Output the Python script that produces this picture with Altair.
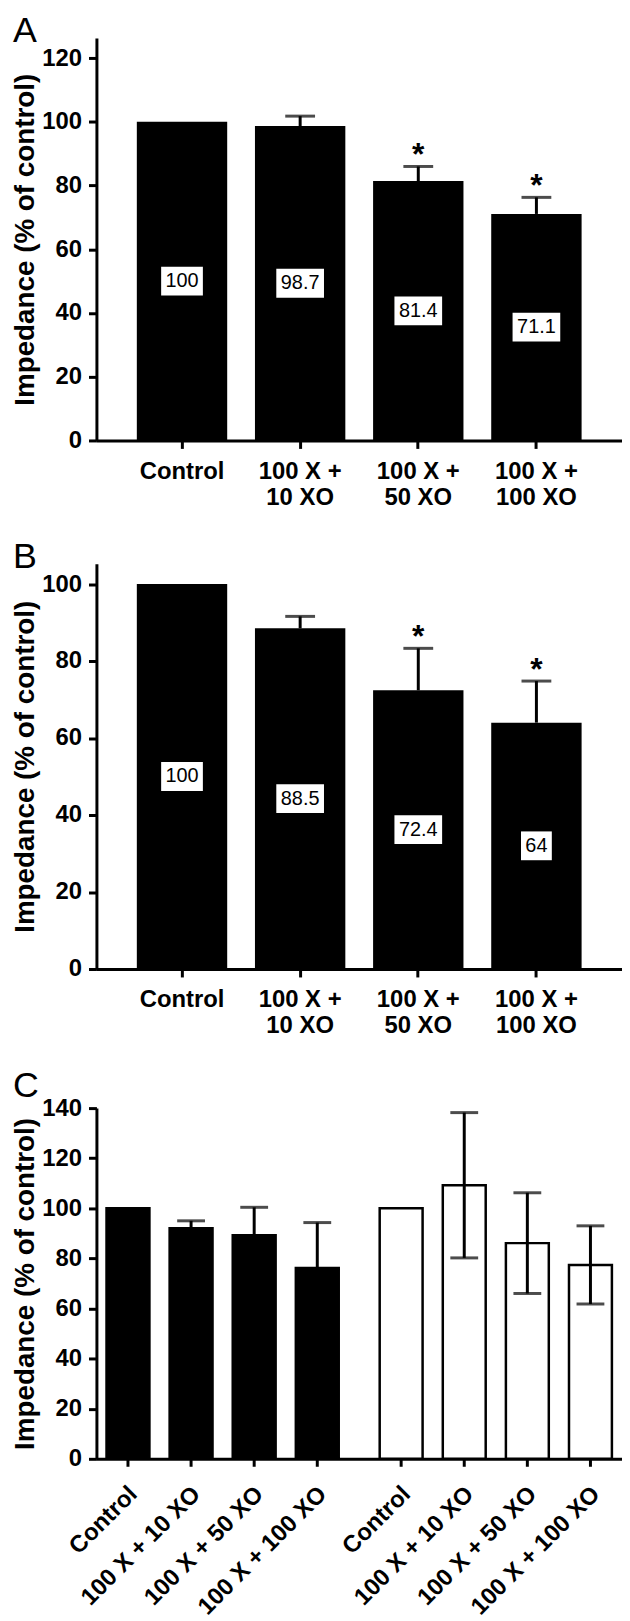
import altair as alt
import pandas as pd

FONT = "Liberation Sans"

# ---------------- data ----------------
cats_ab = ["Control", "100 X +|10 XO", "100 X +|50 XO", "100 X +|100 XO"]

a_values = [100, 98.7, 81.4, 71.1]
a_errors = [0, 3.1, 4.6, 5.2]
a_signif = [False, False, True, True]

b_values = [100, 88.5, 72.4, 64]
b_errors = [0, 3.1, 10.9, 10.8]
b_signif = [False, False, True, True]

c_treatments = ["Control", "100 X + 10 XO", "100 X + 50 XO", "100 X + 100 XO"]
c_groups = ["filled", "open"]
c_filled_values = [100, 92, 89.2, 76.2]
c_filled_errors = [0, 3, 11.2, 18.1]
c_open_values = [100, 109.2, 86.1, 77.4]
c_open_errors = [0, 29, 20.1, 15.6]

panel_letters = ["A", "B", "C"]

Y_TITLE = "Impedance (% of control)"
PLOT_W = 529
LETTER_X = -84
LABEL_FS = 24


def letter_layer(letter, ybase):
    return alt.Chart(pd.DataFrame({"t": [letter]})).mark_text(
        font=FONT, fontSize=36, fontWeight="normal", color="black",
        align="left", baseline="alphabetic").encode(
        x=alt.value(LETTER_X), y=alt.value(ybase), text="t:N")


def panel_ab(letter, values, errors, signif, ymax, height, ticks, ybase):
    df = pd.DataFrame({"cat": cats_ab, "value": values, "err": errors,
                       "sig": signif})
    base = alt.Chart(df).transform_calculate(
        upper="datum.value + datum.err",
        half="datum.value / 2",
        lab="format(datum.value, '~g')",
        nlab="length(format(datum.value, '~g'))",
    )
    x = alt.X("cat:N", sort=cats_ab,
              scale=alt.Scale(paddingInner=0.235, paddingOuter=0.342),
              axis=alt.Axis(title=None, labelAngle=0,
                            labelExpr="split(datum.value, '|')",
                            labelPadding=11, labelLineHeight=26,
                            labelAlign="center", labelBaseline="top"))
    yscale = alt.Scale(domain=[0, ymax], nice=False, zero=True)
    yaxis = alt.Axis(title=Y_TITLE, values=ticks)

    def y(field):
        return alt.Y(field, type="quantitative", scale=yscale, axis=yaxis)

    bars = base.mark_bar(color="black").encode(x=x, y=y("value"))
    err = base.transform_filter("datum.err > 0").mark_rule(
        color="black", strokeWidth=3).encode(x=x, y=y("value"), y2="upper:Q")
    cap = base.transform_filter("datum.err > 0").mark_tick(
        color="black", size=30, thickness=3).encode(x=x, y=y("upper"))
    star = base.transform_filter("datum.sig").mark_text(
        text="*", font=FONT, fontSize=32, fontWeight="bold", color="black",
        baseline="alphabetic", dy=-1).encode(x=x, y=y("upper"))
    layers = [bars, err, cap, star]
    box_w = {2: 31, 3: 42, 4: 48}
    for n, w in box_w.items():
        r = round(29 / w, 4)
        path = f"M-1,-{r}L1,-{r}L1,{r}L-1,{r}Z"
        layers.append(
            base.transform_filter(f"datum.nlab == {n}").mark_point(
                shape=path, size=w * w, filled=True, color="white",
                opacity=1, strokeWidth=0).encode(x=x, y=y("half")))
    txt = base.mark_text(font=FONT, fontSize=20, color="black",
                         baseline="middle").encode(
        x=x, y=y("half"), text="lab:N")
    layers.append(txt)
    layers.append(letter_layer(letter, ybase))
    return alt.layer(*layers).properties(width=PLOT_W, height=height)


chart_a = panel_ab(panel_letters[0], a_values, a_errors, a_signif, 126.3, 405,
                   [0, 20, 40, 60, 80, 100, 120], 4)
chart_b = panel_ab(panel_letters[1], b_values, b_errors, b_signif, 105.3, 408,
                   [0, 20, 40, 60, 80, 100], 4)

# ---------------- panel C ----------------
rows = []
for g, vals, errs in [("filled", c_filled_values, c_filled_errors),
                      ("open", c_open_values, c_open_errors)]:
    for t, v, e in zip(c_treatments, vals, errs):
        rows.append({"group": g, "treat": t, "value": v, "err": e})
dfc = pd.DataFrame(rows)
HC = 353
basec = alt.Chart(dfc).transform_calculate(
    upper="datum.value + datum.err",
    lower="datum.value - datum.err",
)
xc = alt.X("group:N", sort=c_groups,
           scale=alt.Scale(paddingInner=0.076, paddingOuter=0),
           axis=alt.Axis(title=None, labels=False, ticks=False, domain=True))
xo = alt.XOffset("treat:N", sort=c_treatments,
                 scale=alt.Scale(paddingInner=0.32, paddingOuter=0.16))
yscale_c = alt.Scale(domain=[0, 140], nice=False, zero=True)
yaxis_c = alt.Axis(title=Y_TITLE, values=[0, 20, 40, 60, 80, 100, 120, 140])


def yc(field):
    return alt.Y(field, type="quantitative", scale=yscale_c, axis=yaxis_c)


bars_c = basec.mark_bar(stroke="black", strokeWidth=2.5).encode(
    x=xc, xOffset=xo, y=yc("value"),
    color=alt.Color("group:N", sort=c_groups,
                    scale=alt.Scale(domain=c_groups, range=["black", "white"]),
                    legend=None))
err_c = basec.transform_filter("datum.err > 0").mark_rule(
    color="black", strokeWidth=3).encode(
    x=xc, xOffset=xo, y=yc("lower"), y2="upper:Q")
capu_c = basec.transform_filter("datum.err > 0").mark_tick(
    color="black", size=28, thickness=3).encode(x=xc, xOffset=xo, y=yc("upper"))
capl_c = basec.transform_filter("datum.err > 0").mark_tick(
    color="black", size=28, thickness=3).encode(x=xc, xOffset=xo, y=yc("lower"))
ticks_c = basec.mark_rule(color="black", strokeWidth=3).encode(
    x=xc, xOffset=xo, y=alt.value(HC), y2=alt.value(HC + 8))
labels_c = basec.mark_text(angle=315, align="right", baseline="middle",
                           font=FONT, fontSize=LABEL_FS, fontWeight="bold",
                           color="black", dx=4, dy=4).encode(
    x=xc, xOffset=xo, y=alt.value(HC + 32), text="treat:N")

chart_c = alt.layer(bars_c, err_c, capu_c, capl_c, ticks_c, labels_c,
                    letter_layer(panel_letters[2], -11)).properties(
    width=PLOT_W, height=HC)

top = alt.vconcat(chart_a, chart_b, spacing=30)
chart = alt.vconcat(top, chart_c, spacing=31).properties(
    padding={"left": 3, "top": 0, "right": 0, "bottom": 0}
).configure_axis(
    domainColor="black", domainWidth=3, tickColor="black", tickWidth=3,
    tickSize=8, grid=False, labelFont=FONT, labelFontSize=LABEL_FS,
    labelFontWeight="bold", labelColor="black", titleFont=FONT,
    titleFontSize=28, titleFontWeight="bold", titleColor="black",
    titlePadding=2,
).configure_axisY(labelPadding=7).configure_view(stroke=None)

chart.save("out.html", embed_options={"renderer": "svg", "actions": False})
